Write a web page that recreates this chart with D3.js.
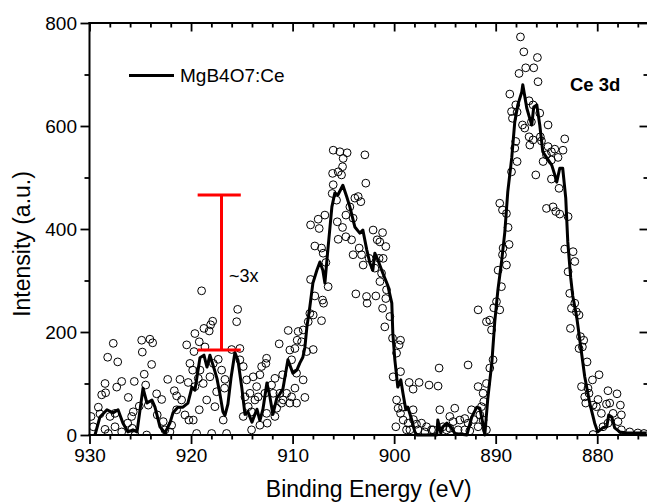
<!DOCTYPE html>
<html><head><meta charset="utf-8">
<script src="https://cdn.jsdelivr.net/npm/d3@7"></script>
<style>
body{margin:0;background:#fff}
svg{display:block}
text{font-family:"Liberation Sans",Arial,Helvetica,sans-serif}
</style>
</head><body>
<svg id="chart" width="647" height="503"></svg>
<script>
// ---- data (binding energy in eV, intensity in a.u.) ----
const lineEnergy = [929.46,928.97,928.28,927.69,927.19,926.70,926.21,925.72,925.32,924.73,924.34,923.85,923.55,923.06,922.57,922.08,921.78,921.29,920.80,920.31,919.91,919.62,919.12,918.73,918.43,918.14,917.75,917.45,917.16,916.86,916.66,916.37,916.07,915.68,915.38,914.99,914.69,914.40,914.00,913.71,913.51,913.22,912.92,912.53,912.23,911.94,911.55,911.25,910.95,910.46,909.97,909.58,909.28,908.99,908.79,908.59,908.30,908.00,907.61,907.31,907.02,906.82,906.53,906.13,905.84,905.54,905.05,904.66,904.36,903.87,903.38,903.08,902.69,902.39,902.10,901.90,901.60,901.11,900.62,900.23,900.13,899.93,899.64,899.34,899.14,898.85,898.65,898.26,897.96,897.77,895.80,895.70,895.40,895.21,894.81,894.42,894.03,892.84,892.35,891.86,891.56,891.27,891.07,890.78,890.38,890.09,889.79,889.40,889.10,888.81,888.42,888.12,887.82,887.43,887.33,886.94,886.74,886.45,886.25,885.95,885.66,885.36,884.97,884.48,884.18,883.99,883.69,883.40,883.10,882.90,882.61,882.41,882.02,881.72,881.23,880.74,880.25,879.95,879.46,879.06,878.87,878.57,878.28,877.78,877.10,875.13];
const lineIntensity = [0,35,49,43,49,23,6,10,6,91,62,68,54,16,4,23,43,54,54,62,93,87,150,155,132,155,130,110,80,45,38,60,110,160,145,90,40,45,25,40,50,28,50,101,74,40,72,80,90,146,120,126,140,151,170,210,249,295,320,336,320,295,359,443,470,466,485,462,443,404,392,398,359,334,320,353,340,314,290,256,198,146,93,107,82,49,54,29,6,0,0,29,3,16,23,16,3,0,35,54,52,23,0,70,140,220,280,340,394,472,538,608,641,666,680,635,621,602,637,641,602,550,538,524,505,491,518,518,460,375,305,270,229,185,113,62,23,6,14,16,39,35,14,6,4,4];

const scatterPoints = [
[927.66,178],[928.21,151],[927.22,142],[924.86,184],[924.05,186],[923.78,179],[924.80,161],[923.88,137],[927.32,93],[926.83,104],[928.47,100],[928.80,78],[928.41,82],[925.59,104],[924.61,118],[924.47,97],[926.18,73],[923.39,80],[922.89,69],[922.30,108],[921.09,108],[921.65,86],[921.42,76],[920.93,68],[920.43,175],[920.11,139],[920.28,102],[929.13,54],[928.97,41],[929.85,36],[927.98,36],[927.49,42],[925.85,36],[925.69,45],[925.10,56],[924.21,58],[923.33,39],[922.74,26],[921.42,49],[920.60,39],[920.21,29],[929.63,16],[928.47,11],[927.49,16],[926.83,6],[926.24,23],[925.79,13],[922.57,10],[921.91,19],[922.08,6],[928.15,3],[925.52,0],[924.37,0],
[918.96,280],[915.41,244],[915.51,220],[917.87,221],[918.07,214],[918.21,202],[918.73,207],[919.62,197],[919.19,181],[919.71,162],[918.63,171],[916.00,166],[915.19,168],[917.32,147],[916.99,126],[917.81,139],[918.14,113],[918.80,100],[919.62,94],[919.12,126],[919.84,126],[919.29,110],[916.66,108],[916.70,91],[917.48,84],[918.46,68],[917.65,55],[919.19,49],[919.78,29],[916.83,29],[916.50,3],[917.97,3],[919.45,3],[915.19,146],[914.86,133],[914.53,107],[913.88,113],[913.54,94],[913.22,117],[913.05,133],[912.63,139],[912.56,149],[913.39,74],[914.20,81],[914.69,74],[912.73,81],[914.37,55],[914.04,45],[913.71,68],[912.56,42],[912.50,23],[913.22,19],[914.04,10],[914.86,36],[911.74,36],[911.57,52],[911.08,62],[911.25,81],[911.91,81],[911.32,177],[910.43,203],[910.27,165],[909.77,168],[909.55,184],[909.45,201],[910.10,146],[909.61,120],[910.59,81],[910.93,68],[910.27,62],[911.74,110],[910.98,117],[912.07,97],
[906.00,553],[905.34,550],[904.63,548],[905.02,537],[905.08,521],[902.88,544],[906.06,508],[905.51,511],[905.18,505],[906.00,486],[906.10,469],[902.79,489],[905.67,456],[903.87,460],[903.54,463],[903.28,453],[904.36,443],[904.75,427],[904.04,421],[906.82,427],[907.48,419],[908.23,408],[907.38,401],[905.60,414],[905.08,403],[905.51,380],[904.75,385],[904.19,379],[904.04,350],[903.44,363],[903.21,350],[903.05,330],[902.46,343],[902.07,398],[901.14,393],[901.67,379],[901.41,375],[900.82,366],[901.48,343],[901.08,343],[901.90,324],[901.24,314],[901.40,298],[900.75,282],[900.82,265],[902.72,269],[902.66,256],[901.80,270],[903.77,274],[907.81,367],[907.15,363],[906.99,353],[906.72,335],[908.23,302],[906.50,288],[907.81,270],[907.05,262],[906.95,256],[908.30,236],[907.97,233],[907.15,222],[908.46,220],[908.96,204],[909.11,181],[908.62,162],[907.97,166],[901.14,246],[900.42,230],[900.92,210],[900.16,188],[899.76,159],[900.10,113],[899.76,68],[899.61,52],[899.83,16],[908.96,107],[909.77,91],[910.10,74],[909.61,62],[908.79,73],
[899.37,184],[899.51,175],[899.37,123],[898.52,102],[897.54,102],[898.13,89],[896.56,97],[895.67,95],[895.57,130],[892.72,136],[891.73,94],[891.24,81],[890.91,100],[899.17,54],[899.37,42],[898.13,49],[895.50,49],[894.03,52],[892.38,49],[899.11,29],[898.62,23],[898.10,30],[897.80,21],[897.30,23],[896.81,16],[896.32,10],[894.52,36],[894.19,26],[893.53,29],[893.04,32],[892.72,23],[892.16,30],[891.56,39],[891.24,29],[898.78,10],[898.45,10],[897.64,10],[896.98,6],[896.16,10],[895.18,16],[894.84,10],[894.52,13],[893.70,10],[893.04,10],[892.55,8],[891.73,16],[890.91,10],[891.40,55],[891.17,65],
[891.73,243],[890.91,220],[890.58,223],[890.41,204],[890.26,146],[889.76,320],[888.94,330],[889.33,350],[890.58,130],
[887.56,773],[887.23,744],[885.89,733],[886.25,713],[887.04,713],[887.70,702],[885.83,686],[888.61,662],[888.02,641],[888.44,628],[887.89,627],[888.35,615],[886.71,649],[886.32,641],[885.66,625],[886.48,608],[887.36,602],[887.14,596],[884.84,602],[885.60,579],[886.71,579],[886.32,573],[886.64,563],[888.02,570],[888.12,557],[885.49,571],[884.84,560],[884.51,550],[884.18,555],[883.20,575],[883.37,553],[883.86,539],[884.51,534],[885.33,531],[885.00,544],[887.89,531],[888.44,511],[886.05,505],[884.51,497],[883.76,479],[889.60,450],[889.33,437],[888.94,430],[885.00,440],[884.35,443],[884.08,434],[883.69,429],[882.87,424],[888.78,403],[889.27,363],[888.68,370],[883.20,361],[882.38,356],[882.21,337],[882.87,317],[889.43,288],[882.71,275],[889.92,259],[890.19,247],[889.60,243],[882.64,207],
[882.54,246],[882.05,239],[881.79,233],[882.21,256],[881.65,191],[881.33,184],[881.79,168],[881.46,171],[881.00,142],[879.82,117],[880.47,107],[881.55,94],[880.91,91],[878.94,86],[878.05,80],[881.23,74],[880.81,81],[879.92,69],[881.13,62],[879.09,60],[878.77,62],[877.72,58],[880.41,58],[880.08,55],[879.59,42],[877.62,39],[878.44,42],[877.95,26],[878.94,23],[879.43,16],[880.41,1],[877.62,10],[876.80,6],[876.00,4],[875.40,3]
];

const xDomain = [930, 875];
const yDomain = [0, 800];
const xMajorTicks = [930, 920, 910, 900, 890, 880];
const xMinorTicks = [928,926,924,922,918,916,914,912,908,906,904,902,898,896,894,892,888,886,884,882,878,876];
const yMajorTicks = [0, 200, 400, 600, 800];
const yMinorTicks = [100, 300, 500, 700];
const seriesName = "MgB4O7:Ce";
const regionLabel = "Ce 3d";
const ratioLabel = "~3x";
const ratioBar = {energy: 917.0, low: 165, high: 466, capFrom: 919.35, capTo: 915.1};
const xTitle = "Binding Energy (eV)";
const yTitle = "Intensity (a.u.)";

// ---- layout ----
const svg = d3.select("#chart");
const L = 89.5, R = 648, T = 23, B = 435;
const x = d3.scaleLinear().domain(xDomain).range([L, R]);
const y = d3.scaleLinear().domain(yDomain).range([B, T]);
const FS = 19;

svg.append("defs").append("clipPath").attr("id","plotclip")
  .append("rect").attr("x",L).attr("y",T).attr("width",R-L).attr("height",B-T);

// scatter
svg.append("g").attr("clip-path","url(#plotclip)")
  .selectAll("circle").data(scatterPoints).join("circle")
  .attr("cx", d => x(d[0])).attr("cy", d => y(d[1])).attr("r", 3.9)
  .attr("fill","none").attr("stroke","#000").attr("stroke-width",1);

// line
const lineData = lineEnergy.map((e,i) => [e, lineIntensity[i]]);
svg.append("path").datum(lineData)
  .attr("d", d3.line().x(d => x(d[0])).y(d => y(d[1])))
  .attr("fill","none").attr("stroke","#000").attr("stroke-width",3)
  .attr("stroke-linejoin","round");

// axes
function styleAxis(g, labels){
  g.select(".domain").remove();
  g.selectAll(".tick line").attr("stroke","#000").attr("stroke-width",1.8);
  if(labels){ g.selectAll(".tick text").attr("font-size",FS).attr("fill","#000").attr("font-family","'Liberation Sans',Arial,sans-serif"); }
  else g.selectAll(".tick text").remove();
}
const fmt = d3.format("d");
svg.append("g").attr("transform",`translate(0,${B})`)
  .call(d3.axisBottom(x).tickValues(xMajorTicks).tickFormat(fmt).tickSize(9).tickPadding(5).tickSizeOuter(0))
  .call(g=>styleAxis(g,true));
svg.append("g").attr("transform",`translate(0,${B})`)
  .call(d3.axisBottom(x).tickValues(xMinorTicks).tickSize(4.5).tickSizeOuter(0)).call(g=>styleAxis(g,false));
svg.append("g").attr("transform",`translate(0,${T})`)
  .call(d3.axisTop(x).tickValues(xMajorTicks).tickSize(-8.5).tickSizeOuter(0)).call(g=>styleAxis(g,false));
svg.append("g").attr("transform",`translate(0,${T})`)
  .call(d3.axisTop(x).tickValues(xMinorTicks).tickSize(-4.5).tickSizeOuter(0)).call(g=>styleAxis(g,false));
svg.append("g").attr("transform",`translate(${L},0)`)
  .call(d3.axisLeft(y).tickValues(yMajorTicks).tickFormat(fmt).tickSize(9).tickPadding(3.5).tickSizeOuter(0))
  .call(g=>styleAxis(g,true));
svg.append("g").attr("transform",`translate(${L},0)`)
  .call(d3.axisLeft(y).tickValues(yMinorTicks).tickSize(5).tickSizeOuter(0)).call(g=>styleAxis(g,false));
svg.append("g").attr("transform",`translate(${R},0)`)
  .call(d3.axisRight(y).tickValues(yMajorTicks).tickSize(-8.5).tickSizeOuter(0)).call(g=>styleAxis(g,false));
svg.append("g").attr("transform",`translate(${R},0)`)
  .call(d3.axisRight(y).tickValues(yMinorTicks).tickSize(-4.5).tickSizeOuter(0)).call(g=>styleAxis(g,false));

// frame
const frame = svg.append("g").attr("stroke","#000").attr("stroke-width",2).attr("fill","none");
frame.append("line").attr("x1",L).attr("x2",L).attr("y1",T-1).attr("y2",B+1);
frame.append("line").attr("x1",L-1).attr("x2",R).attr("y1",B).attr("y2",B);
frame.append("line").attr("x1",L-1).attr("x2",R).attr("y1",T).attr("y2",T);
frame.append("line").attr("x1",R).attr("x2",R).attr("y1",T).attr("y2",B);

// axis titles
svg.append("text").attr("x",(L+R)/2).attr("y",497).attr("text-anchor","middle")
  .attr("font-size",23).text(xTitle);
svg.append("text").attr("transform","translate(30,244) rotate(-90)").attr("text-anchor","middle")
  .attr("font-size",23).text(yTitle);

// legend
svg.append("line").attr("x1",129).attr("x2",174).attr("y1",75.5).attr("y2",75.5)
  .attr("stroke","#000").attr("stroke-width",3);
svg.append("text").attr("x",180).attr("y",82).attr("font-size",FS).text(seriesName);

// labels
svg.append("text").attr("x",570).attr("y",91).attr("font-size",18.5).attr("font-weight","bold").text(regionLabel);

// ratio annotation
const red = svg.append("g").attr("stroke","#ff0000").attr("stroke-width",3);
red.append("line").attr("x1",x(ratioBar.energy)).attr("x2",x(ratioBar.energy))
  .attr("y1",y(ratioBar.high)).attr("y2",y(ratioBar.low));
red.append("line").attr("x1",x(ratioBar.capFrom)).attr("x2",x(ratioBar.capTo))
  .attr("y1",y(ratioBar.high)).attr("y2",y(ratioBar.high));
red.append("line").attr("x1",x(ratioBar.capFrom)).attr("x2",x(ratioBar.capTo))
  .attr("y1",y(ratioBar.low)).attr("y2",y(ratioBar.low));
svg.append("text").attr("x",x(ratioBar.energy)+7.5).attr("y",282).attr("font-size",18).text(ratioLabel);
</script>
</body></html>
